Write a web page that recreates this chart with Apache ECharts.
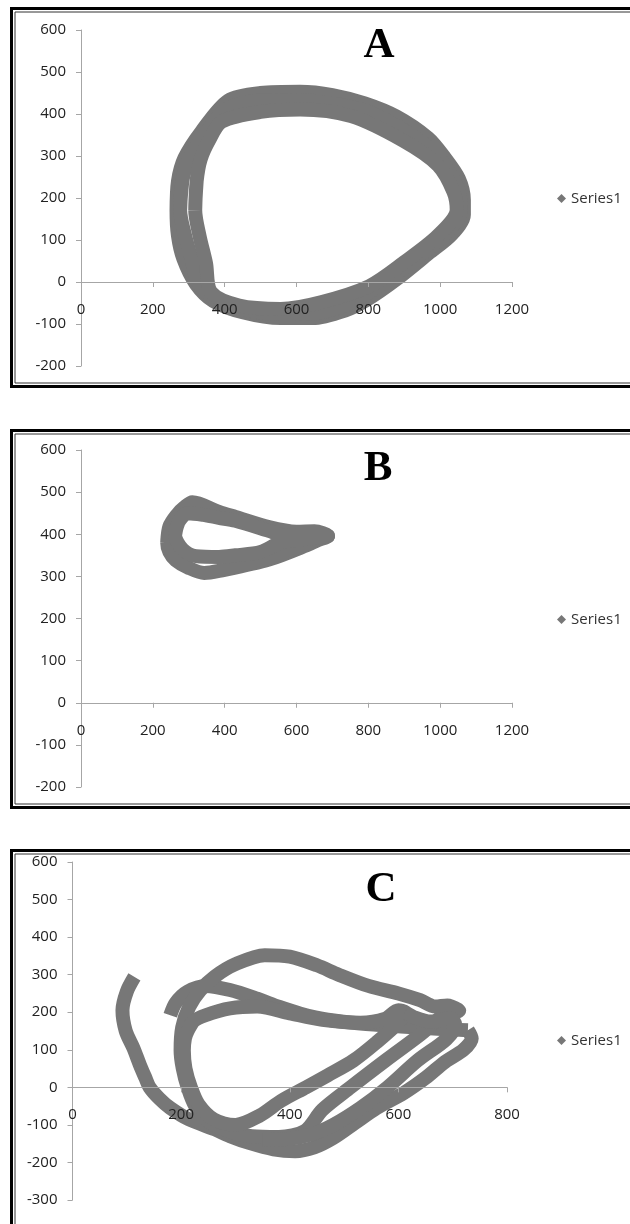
<!DOCTYPE html>
<html>
<head>
<meta charset="utf-8">
<script src="https://cdn.jsdelivr.net/npm/echarts@6/dist/echarts.min.js"></script>
<style>
html,body{margin:0;padding:0;background:#fff;}
#chart{width:630px;height:1224px;}
</style>
</head>
<body>
<div id="chart"></div>
<script>
// ---- Panel A (three overlapping laps) ----
var aLoop1 = [[266,171],[270,240],[288,295],[335,358],[410,432],[500,450],[610,453],[700,445],[790,425],[878,394],[966,343],[1012,297],[1052,246],[1066,195],[1066,160],[1032,113],[968,68],[878,6],[795,-43],[735,-68],[645,-86],[556,-86],[450,-72],[368,-45],[320,-5],[285,55],[270,110],[266,171]];
var aLoop2 = [[276,171],[282,240],[300,292],[345,352],[405,412],[500,432],[610,433],[700,425],[790,408],[888,367],[980,312],[1025,262],[1052,215],[1057,170],[1012,112],[935,57],[888,26],[800,-26],[735,-56],[645,-75],[556,-76],[448,-64],[370,-36],[325,0],[308,55],[290,110],[276,171]];
var aLoop3 = [[318,171],[322,240],[333,292],[357,338],[392,382],[500,405],[610,411],[752,395],[898,336],[994,278],[1037,215],[1046,172],[993,110],[898,46],[802,-10],[668,-48],[556,-64],[440,-56],[362,-24],[348,45],[330,110],[318,171]];

// ---- Panel B (two laps) ----
var bLoop1 = [[240,380],[246,418],[268,447],[288,464],[310,476],[384,453],[430,441],[523,417],[600,406],[650,407],[688,396],[660,386],[640,378],[523,340],[384,313],[343,308],[298,321],[264,338],[246,358],[240,380]];
var bLoop2 = [[262,398],[272,430],[298,450],[340,446],[384,439],[430,432],[523,408],[560,398],[620,396],[688,396],[620,388],[560,382],[500,358],[430,350],[384,346],[320,348],[283,364],[262,398]];

// ---- Panel C (several strokes) ----
var cStroke1 = [[180,192],[190,225],[212,255],[245,270],[290,259],[340,236],[381,214],[420,196],[470,180],[530,170],[605,162],[680,155],[728,152]];
var cStroke2 = [[728,152],[735,130],[720,100],[686,68],[650,25],[610,-15],[560,-55],[520,-95],[480,-135],[445,-160],[410,-170],[370,-165],[325,-148],[290,-130],[262,-112],[214,-85],[180,-55],[160,-30],[142,0],[134,26],[124,60],[112,105],[98,150],[92,205],[100,255],[114,294]];
var cStroke3 = [[712,205],[690,218],[668,215],[640,232],[600,250],[545,270],[490,300],[450,325],[400,348],[354,352],[300,328],[262,295],[235,258],[215,215],[202,160],[199,98],[203,50],[212,0],[226,-50],[250,-90],[285,-115],[330,-130],[380,-132],[428,-116],[460,-60],[512,0],[576,71],[640,140],[679,187],[712,205]];
var cStroke4 = [[212,150],[222,175],[245,192],[290,210],[340,215],[400,197],[460,180],[530,172],[575,182],[600,205],[612,200],[600,172],[560,120],[517,71],[470,32],[430,0],[384,-36],[345,-75],[300,-100],[260,-85],[232,-45],[218,0],[208,50],[205,98],[207,130],[212,150]];
var cStroke5 = [[612,200],[632,185],[660,175],[695,185],[705,165],[688,128],[635,71],[580,0],[530,-55],[480,-100],[440,-125],[395,-138],[350,-140]];

// ---- Axes / labels ----
var titles = ['A','B','C'];
var seriesName = 'Series1';
var xRangeAB = [0, 1200], xRangeC = [0, 800];
var yRangeAB = [-200, 600], yRangeC = [-300, 600];

var FONT = '"Open Sans", "Liberation Sans", sans-serif';
var GRAY = '#777777';
var AXIS = '#a6a6a6';
var grids = [
  {left:81, top:30, width:431, height:336},
  {left:81, top:450, width:431, height:337},
  {left:72.5, top:862, width:434.5, height:338}
];
var yRanges = [yRangeAB, yRangeAB, yRangeC];

// closed laps: repeat the second point so the ends overlap without a notch
function lap(arr){ return arr.concat([arr[1]]); }

function xAx(grid, r){
  var yr = yRanges[grid];
  var off = -grids[grid].height * (0 - yr[0]) / (yr[1] - yr[0]);
  return {type:'value', gridIndex:grid, min:r[0], max:r[1], interval:200, position:'bottom', offset:off, z:10,
    axisLine:{show:true, onZero:false, lineStyle:{color:AXIS, width:1}},
    axisTick:{show:true, length:5, inside:false, lineStyle:{color:AXIS}},
    axisLabel:{margin:20, fontSize:15, color:'#222', fontFamily:FONT, showMinLabel:true, showMaxLabel:true,
      formatter:function(v){return String(v);}},
    splitLine:{show:false}};
}
function yAx(grid, r){
  return {type:'value', gridIndex:grid, min:r[0], max:r[1], interval:100, z:10,
    axisLine:{show:true, onZero:false, lineStyle:{color:AXIS, width:1}},
    axisTick:{show:true, length:5, inside:false, lineStyle:{color:AXIS}},
    axisLabel:{margin:15, fontSize:15, color:'#222', fontFamily:FONT, showMinLabel:true, showMaxLabel:true,
      formatter:function(v){return String(v);}},
    splitLine:{show:false}};
}
function ser(idx, data){
  return {name:seriesName, type:'line', xAxisIndex:idx, yAxisIndex:idx, data:data, z:2,
    showSymbol:false, symbol:'diamond', smooth:0.3, silent:true,
    lineStyle:{width:14, color:GRAY, cap:'butt', join:'round'},
    itemStyle:{color:GRAY}};
}
function leg(top){
  return {data:[seriesName], left:557, top:top, padding:0, icon:'diamond',
    itemWidth:9, itemHeight:9, itemGap:5, selectedMode:false,
    textStyle:{fontSize:15, color:'#333', fontFamily:FONT}};
}
function frame(y, h){
  return [
    {type:'rect', z:100, silent:true, shape:{x:11.5, y:y, width:700, height:h}, style:{fill:'none', stroke:'#000', lineWidth:3}},
    {type:'rect', z:100, silent:true, shape:{x:15, y:y+3.5, width:700, height:h-7}, style:{fill:'none', stroke:'#333', lineWidth:1}}
  ];
}
function ttl(text, x, y){
  return {type:'text', z:100, silent:true, style:{text:text, x:x, y:y, textAlign:'center', textVerticalAlign:'middle', verticalAlign:'middle', font:'bold 43px "Liberation Serif", "Times New Roman", serif', fill:'#000'}};
}

var chart = echarts.init(document.getElementById('chart'), null, {renderer:'canvas'});
chart.setOption({
  animation:false,
  backgroundColor:'#fff',
  grid:grids.map(function(g){ return {left:g.left, top:g.top, width:g.width, height:g.height, containLabel:false, outerBoundsMode:'none'}; }),
  xAxis:[xAx(0,xRangeAB), xAx(1,xRangeAB), xAx(2,xRangeC)],
  yAxis:[yAx(0,yRangeAB), yAx(1,yRangeAB), yAx(2,yRangeC)],
  legend:[leg(191), leg(612), leg(1033)],
  series:[
    ser(0,lap(aLoop1)), ser(0,lap(aLoop2)), ser(0,lap(aLoop3)),
    ser(1,lap(bLoop1)), ser(1,lap(bLoop2)),
    ser(2,cStroke1), ser(2,cStroke2), ser(2,lap(cStroke3)), ser(2,lap(cStroke4)), ser(2,cStroke5)
  ],
  graphic:[].concat(
    frame(8.5, 378), frame(430.5, 377), frame(850.5, 500),
    [ttl(titles[0], 379, 46), ttl(titles[1], 378, 469), ttl(titles[2], 381, 890)]
  )
});
</script>
</body>
</html>
